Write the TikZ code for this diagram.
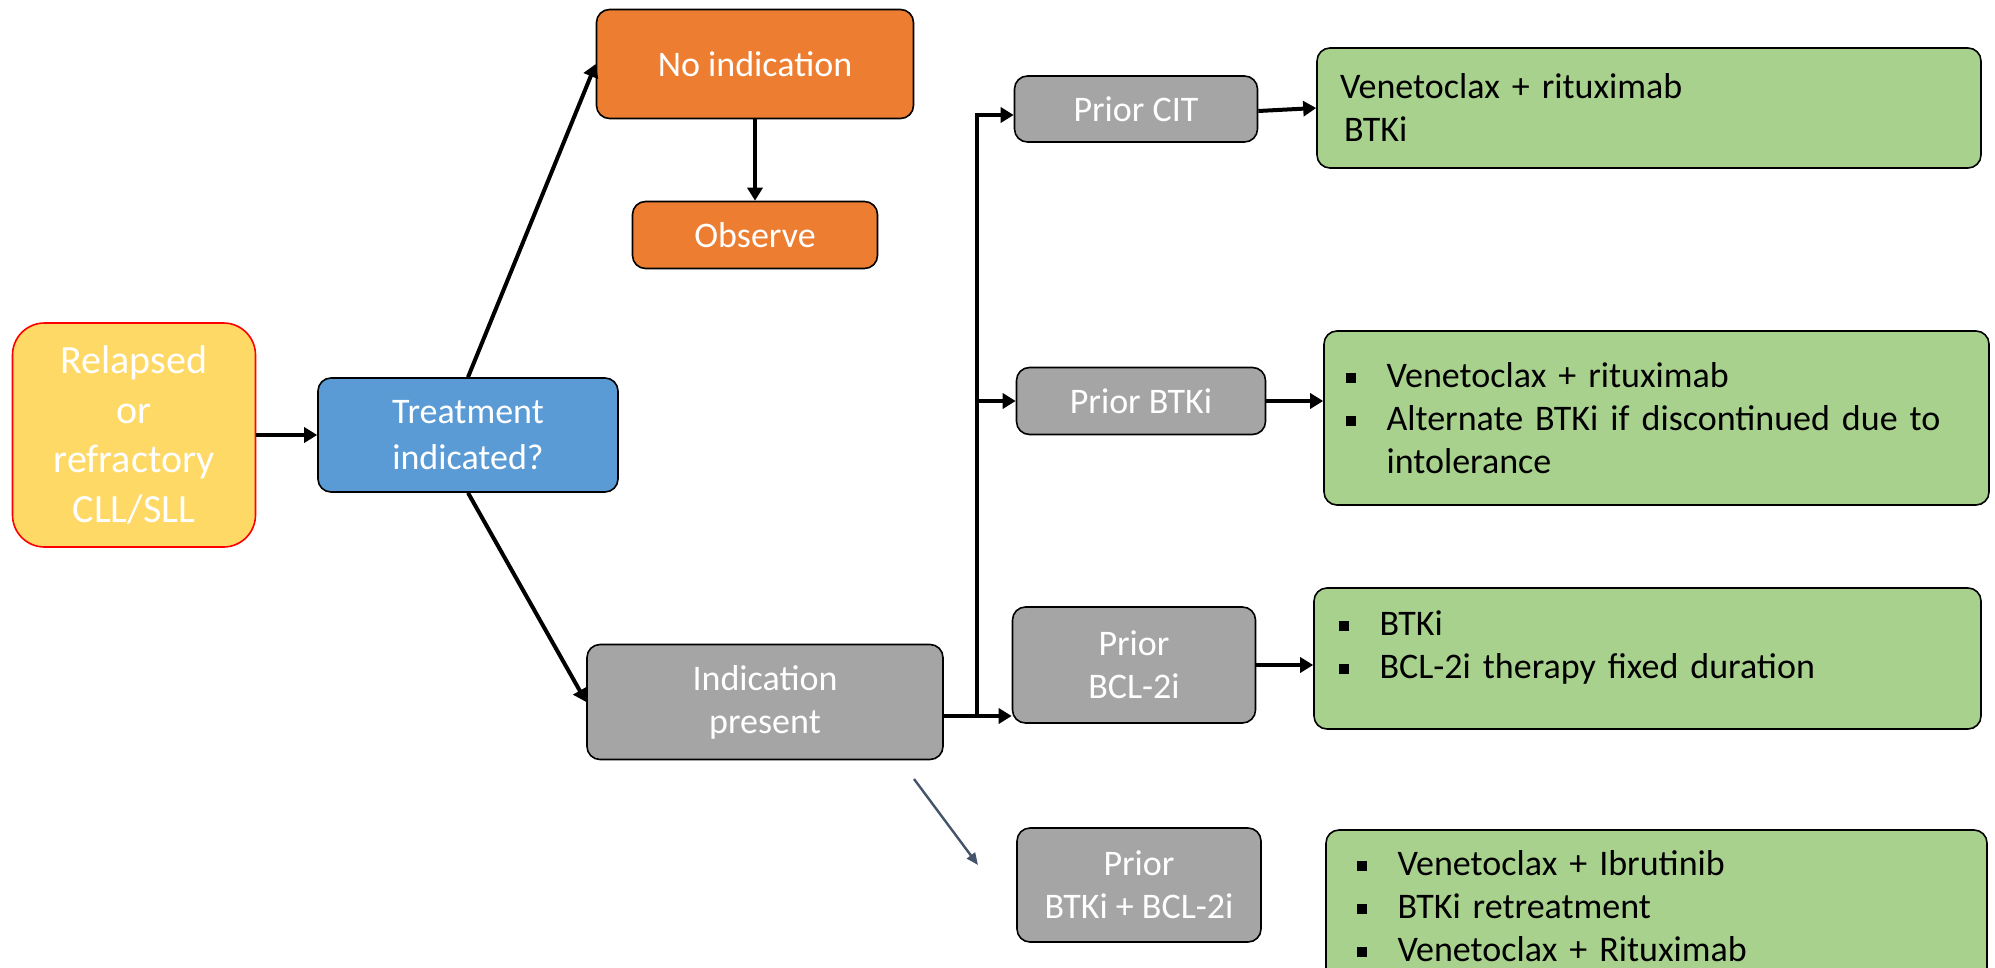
\documentclass[tikz,border=0pt]{standalone}
\usepackage{fontspec}
\setmainfont{Carlito}
\usetikzlibrary{arrows.meta}

\definecolor{relyellow}{HTML}{FFD966}
\definecolor{askblue}{HTML}{5B9BD5}
\definecolor{noorange}{HTML}{ED7D31}
\definecolor{priorgray}{HTML}{A5A5A5}
\definecolor{optgreen}{HTML}{A9D18E}
\definecolor{slate}{HTML}{44546A}

\newcommand{\sqbullet}{\makebox[20.5pt][l]{\rule[2.4pt]{5pt}{5pt}}}
\newcommand{\sqindent}{\makebox[20.5pt]{}}

\begin{document}
\begin{tikzpicture}[x=0.5pt,y=-0.5pt,
  box/.style={draw=black,line width=0.8pt,rounded corners=6.5pt,text=white,
    align=center,font=\fontsize{18}{21.5}\selectfont,inner sep=2pt},
  optbox/.style={box,fill=optgreen,text=black,align=left,inner ysep=2pt},
  arr/.style={line width=2pt,-{Triangle[length=6.5pt,width=7.5pt]}}]
  \useasboundingbox (0,0) rectangle (1995,968);

  \node[box,fill=relyellow,draw=red,rounded corners=16pt,minimum width=121.5pt,minimum height=112pt,
    font=\fontsize{20}{24.8}\selectfont] (rel) at (134,435) {Relapsed\\or\\refractory\\CLL/SLL};
  \node[box,fill=askblue,minimum width=150pt,minimum height=57pt,font=\fontsize{18}{23}\selectfont]
    (treat) at (468,435) {Treatment\\indicated?};
  \node[box,fill=noorange,minimum width=158.5pt,minimum height=54.5pt] (noind) at (755,64) {No indication};
  \node[box,fill=noorange,minimum width=122.5pt,minimum height=33.5pt] (obs) at (755,235) {Observe};
  \node[box,fill=priorgray,minimum width=178pt,minimum height=57.5pt] (indic) at (765,702) {Indication\\present};

  \node[box,fill=priorgray,minimum width=121.5pt,minimum height=33pt] (pcit) at (1136,109) {Prior CIT};
  \node[box,fill=priorgray,minimum width=124.5pt,minimum height=33.5pt] (pbtk) at (1141,401) {Prior BTKi};
  \node[box,fill=priorgray,minimum width=121.5pt,minimum height=58pt] (pbcl) at (1134,665) {Prior\\BCL-2i};
  \node[box,fill=priorgray,minimum width=122pt,minimum height=57pt] (pboth) at (1139,885) {Prior\\BTKi + BCL-2i};

  \node[optbox,minimum width=332pt,minimum height=60pt,inner xsep=11.5pt,text width=309pt]
    (cit) at (1649,108) {Venetoclax + rituximab\\\hspace*{2pt}BTKi};
  \node[optbox,minimum width=332.5pt,minimum height=87pt,inner xsep=10.5pt,text width=311pt]
    (btk) at (1656.5,418) {\sqbullet Venetoclax + rituximab\\\sqbullet Alternate BTKi if discontinued due to\\\sqindent intolerance};
  \node[optbox,minimum width=333.5pt,minimum height=70.5pt,inner xsep=12pt,text width=309pt]
    (bcl) at (1647.5,658.5) {\sqbullet BTKi\\\sqbullet BCL-2i therapy fixed duration\\[-8pt]\mbox{}};
  \node[optbox,minimum width=330.5pt,minimum height=76pt,inner xsep=15pt,text width=300pt]
    (both) at (1656.5,906) {\sqbullet Venetoclax + Ibrutinib\\\sqbullet BTKi retreatment\\\sqbullet Venetoclax + Rituximab};

  \coordinate (split) at (977,716);
  \coordinate (tail) at (914,779);
  \coordinate (head) at (978,865);

  \draw[arr] (rel) -- (treat);
  \draw[arr] (treat.north) -- (noind.west);
  \draw[arr] (noind) -- (obs);
  \draw[arr] (treat.south) -- (indic.west);
  \draw[line width=2pt] (indic.east |- split) -- (split);
  \draw[arr] (split) -- (pbcl.west |- split);
  \draw[arr] (split) |- ([yshift=-3pt]pcit.west);
  \draw[arr] (split |- pbtk.west) -- (pbtk.west);
  \draw[arr] ([yshift=-1pt]pcit.east) -- (cit.west);
  \draw[arr] (pbtk.east) -- (btk.west |- pbtk.east);
  \draw[arr] (pbcl.east) -- (bcl.west |- pbcl.east);
  \draw[slate,line width=1.2pt,-{Triangle[length=6pt,width=5pt]}] (tail) -- (head);
\end{tikzpicture}
\end{document}
